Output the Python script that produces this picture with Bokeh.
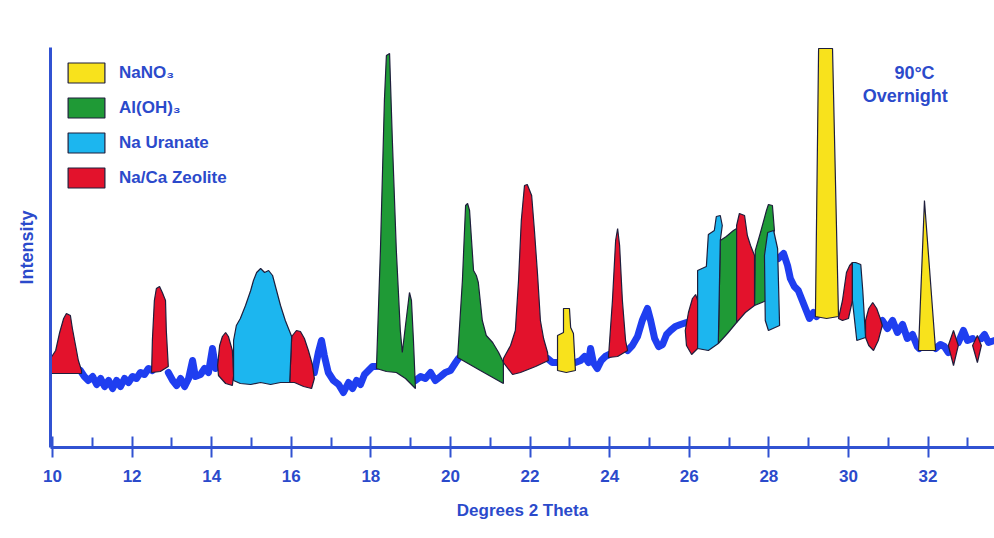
from bokeh.plotting import figure
from bokeh.models import Range1d, FixedTicker, Label, Legend, LegendItem
from bokeh.embed import file_html
from bokeh.resources import INLINE

# ---------------- data (degrees 2-theta, intensity in arbitrary units) ----------------
major_ticks = [10, 12, 14, 16, 18, 20, 22, 24, 26, 28, 30, 32]
minor_ticks = [11, 13, 15, 17, 19, 21, 23, 25, 27, 29, 31, 33]

# blue background trace, as segments between the labelled peaks
base_x = [
    [10.70, 10.80, 10.90, 11.01, 11.11, 11.21, 11.31, 11.41, 11.51, 11.61, 11.71, 11.81, 11.91, 12.01, 12.11, 12.21, 12.31, 12.41, 12.51],
    [12.91, 13.02, 13.12, 13.22, 13.32, 13.42, 13.52, 13.59, 13.72, 13.82, 13.92, 14.02, 14.10, 14.17],
    [16.58, 16.68, 16.76, 16.83, 16.93, 17.06, 17.19, 17.31, 17.44, 17.54, 17.64, 17.74, 17.84, 17.94, 18.04, 18.14],
    [19.12, 19.25, 19.37, 19.50, 19.62, 19.75, 19.87, 20.00, 20.13, 20.20],
    [22.44, 22.56, 22.69],
    [23.14, 23.27, 23.37, 23.47, 23.52, 23.59, 23.69, 23.79, 23.89, 23.99],
    [24.45, 24.57, 24.70, 24.82, 24.95, 25.03, 25.13, 25.23, 25.33, 25.43, 25.53, 25.65, 25.78, 25.93],
    [28.24, 28.37, 28.47, 28.54, 28.64, 28.74, 28.84, 28.94, 29.02, 29.12, 29.20],
    [30.85, 30.98, 31.11, 31.23, 31.36, 31.48, 31.61, 31.73, 31.78],
    [32.19, 32.31, 32.41, 32.51],
    [32.76, 32.89, 32.99, 33.12],
    [33.34, 33.42, 33.52, 33.67],
]
base_y = [
    [77, 71, 67, 71, 63, 69, 61, 67, 59, 67, 61, 69, 65, 71, 69, 75, 73, 79, 77],
    [75, 67, 62, 69, 61, 69, 87, 71, 73, 79, 75, 99, 79, 85],
    [75, 95, 107, 92, 75, 67, 63, 55, 65, 59, 67, 63, 73, 77, 81, 81],
    [67, 71, 69, 75, 67, 71, 75, 77, 85, 89],
    [89, 85, 85],
    [85, 87, 91, 85, 99, 85, 79, 87, 91, 93],
    [97, 102, 111, 127, 139, 127, 109, 101, 103, 113, 117, 121, 123, 125],
    [189, 194, 182, 169, 161, 157, 147, 137, 129, 135, 131],
    [127, 119, 127, 115, 123, 109, 113, 101, 99],
    [99, 103, 101, 95],
    [105, 117, 107, 109],
    [109, 113, 105, 107],
]

# NaNO3 peaks
nano3_x = [
    [22.69, 22.69, 22.84, 22.84, 22.99, 23.02, 23.09, 23.14, 22.91],
    [29.17, 29.25, 29.60, 29.75, 29.45],
    [31.76, 31.91, 32.19],
]
nano3_y = [
    [77, 112, 115, 139, 139, 120, 114, 77, 75],
    [131, 399, 399, 131, 129],
    [97, 247, 97],
]

# Al(OH)3 peaks
aloh3_x = [
    [18.14, 18.24, 18.34, 18.39, 18.47, 18.54, 18.64, 18.74, 18.79, 18.87, 18.97, 19.02, 19.07, 19.12, 18.87, 18.64, 18.39],
    [20.18, 20.30, 20.38, 20.43, 20.48, 20.58, 20.65, 20.70, 20.80, 20.90, 21.06, 21.21, 21.33, 21.33, 20.75],
    [26.73, 26.78, 26.93, 27.11, 27.19, 27.19, 26.96],
    [27.64, 27.66, 27.79, 27.94, 27.99, 28.09, 28.14, 27.94, 27.94],
]
aloh3_y = [
    [79, 197, 347, 392, 394, 307, 197, 117, 95, 122, 155, 147, 107, 59, 69, 75, 76],
    [90, 167, 242, 244, 237, 177, 172, 165, 127, 112, 105, 95, 85, 64, 77],
    [104, 207, 211, 217, 219, 125, 114],
    [142, 197, 215, 237, 243, 242, 217, 197, 147],
]

# Na uranate peaks
uranate_x = [
    [14.55, 14.55, 14.62, 14.72, 14.85, 14.98, 15.05, 15.13, 15.23, 15.33, 15.43, 15.53, 15.63, 15.73, 15.85, 16.01, 15.96, 15.73, 15.48, 15.23, 14.98, 14.72],
    [26.21, 26.21, 26.43, 26.48, 26.63, 26.68, 26.78, 26.83, 26.78, 26.73, 26.48],
    [27.89, 27.97, 28.12, 28.22, 28.27, 27.99, 27.91],
    [30.10, 30.18, 30.31, 30.36, 30.43, 30.21, 30.10],
]
uranate_y = [
    [67, 107, 122, 129, 142, 157, 167, 175, 179, 175, 177, 172, 157, 142, 127, 111, 65, 65, 63, 65, 63, 64],
    [99, 177, 181, 213, 217, 231, 232, 222, 207, 104, 97],
    [192, 215, 217, 199, 122, 117, 127],
    [185, 185, 183, 157, 110, 107, 147],
]

# Na/Ca zeolite peaks
zeolite_x = [
    [9.95, 9.95, 10.08, 10.18, 10.28, 10.35, 10.45, 10.50, 10.58, 10.65, 10.73, 10.73],
    [12.49, 12.51, 12.56, 12.61, 12.69, 12.76, 12.84, 12.86, 12.91, 12.71],
    [14.15, 14.20, 14.27, 14.35, 14.42, 14.52, 14.55, 14.52, 14.35, 14.17],
    [16.01, 16.13, 16.23, 16.33, 16.43, 16.53, 16.58, 16.51, 16.31, 16.08, 15.96],
    [21.33, 21.51, 21.63, 21.71, 21.78, 21.86, 21.93, 22.04, 22.11, 22.19, 22.26, 22.34, 22.44, 22.46, 22.14, 21.76, 21.56, 21.33],
    [23.97, 24.07, 24.15, 24.20, 24.25, 24.32, 24.40, 24.45, 24.20],
    [25.90, 25.98, 26.08, 26.16, 26.21, 26.21, 26.06, 25.93],
    [27.19, 27.19, 27.26, 27.39, 27.46, 27.54, 27.64, 27.64, 27.41],
    [29.75, 29.85, 29.95, 30.03, 30.10, 30.10, 30.00, 29.85],
    [30.43, 30.51, 30.61, 30.71, 30.80, 30.85, 30.75, 30.63, 30.51, 30.43],
    [32.51, 32.64, 32.76, 32.64],
    [33.12, 33.24, 33.34, 33.24],
]
zeolite_y = [
    [74, 89, 97, 115, 129, 134, 132, 119, 102, 87, 77, 74],
    [75, 107, 147, 159, 161, 155, 147, 117, 81, 76],
    [82, 102, 111, 115, 111, 97, 72, 62, 64, 72],
    [111, 117, 116, 109, 97, 83, 69, 59, 61, 65, 65],
    [89, 102, 117, 167, 227, 262, 263, 252, 217, 172, 127, 109, 95, 87, 81, 75, 73, 85],
    [90, 147, 207, 219, 202, 147, 107, 97, 91],
    [117, 135, 149, 153, 147, 99, 93, 102],
    [125, 222, 234, 232, 212, 202, 192, 142, 135],
    [129, 147, 175, 182, 185, 147, 129, 127],
    [127, 139, 145, 139, 129, 122, 107, 97, 102, 110],
    [102, 117, 102, 82],
    [102, 112, 102, 85],
]

legend_labels = ["NaNO\u2083", "Al(OH)\u2083", "Na Uranate", "Na/Ca Zeolite"]
note_lines = ["90\u00b0C", "Overnight"]
x_title = "Degrees 2 Theta"
y_title = "Intensity"

# ---------------- styles ----------------
BLUE = "#1f3ef0"
AXIS = "#3152d2"
TEXT = "#2b4acb"
YELLOW = "#f8e21c"
GREEN = "#1f9a36"
CYAN = "#1cb6ef"
RED = "#e3122c"
EDGE = "#1e1e3c"
FONT = "Liberation Sans"

p = figure(width=994, height=538,
           x_range=Range1d(9.95, 33.67), y_range=Range1d(0, 400),
           output_backend="svg", toolbar_location=None,
           min_border_left=50, min_border_right=0,
           min_border_top=47, min_border_bottom=91)
p.xgrid.visible = False
p.ygrid.visible = False
p.outline_line_color = None
p.background_fill_color = "white"
p.border_fill_color = "white"

p.multi_line(xs=base_x, ys=base_y, line_color=BLUE, line_width=7,
             line_join="round", line_cap="round")

r_green = p.patches(xs=aloh3_x, ys=aloh3_y, fill_color=GREEN, line_color=EDGE, line_width=1.2)
r_red = p.patches(xs=zeolite_x, ys=zeolite_y, fill_color=RED, line_color=EDGE, line_width=1.2)
r_cyan = p.patches(xs=uranate_x, ys=uranate_y, fill_color=CYAN, line_color=EDGE, line_width=1.2)
r_yellow = p.patches(xs=nano3_x, ys=nano3_y, fill_color=YELLOW, line_color=EDGE, line_width=1.2)

legend = Legend(items=[
    LegendItem(label=legend_labels[0], renderers=[r_yellow]),
    LegendItem(label=legend_labels[1], renderers=[r_green]),
    LegendItem(label=legend_labels[2], renderers=[r_cyan]),
    LegendItem(label=legend_labels[3], renderers=[r_red]),
], location="top_left")
legend.margin = 0
legend.padding = 13
legend.spacing = 10
legend.glyph_width = 46
legend.glyph_height = 25
legend.label_height = 25
legend.label_standoff = 10
legend.label_text_font = FONT
legend.label_text_font_style = "bold"
legend.label_text_font_size = "17px"
legend.label_text_color = TEXT
legend.background_fill_alpha = 0
legend.border_line_alpha = 0
p.add_layout(legend)

# x axis
xa = p.xaxis[0]
xa.ticker = FixedTicker(ticks=major_ticks, minor_ticks=minor_ticks)
xa.axis_line_color = AXIS
xa.axis_line_width = 3
xa.major_tick_line_color = AXIS
xa.major_tick_line_width = 2
xa.major_tick_in = 11
xa.major_tick_out = 10
xa.minor_tick_line_color = AXIS
xa.minor_tick_line_width = 2
xa.minor_tick_in = 10
xa.minor_tick_out = 0
xa.major_label_text_font = FONT
xa.major_label_text_font_style = "bold"
xa.major_label_text_font_size = "17px"
xa.major_label_text_color = TEXT
xa.major_label_standoff = 12
xa.axis_label = x_title
xa.axis_label_text_font = FONT
xa.axis_label_text_font_style = "bold"
xa.axis_label_text_font_size = "17px"
xa.axis_label_text_color = TEXT
xa.axis_label_standoff = 16

# y axis
ya = p.yaxis[0]
ya.ticker = FixedTicker(ticks=[])
ya.axis_line_color = AXIS
ya.axis_line_width = 3
ya.major_tick_line_color = None
ya.minor_tick_line_color = None
ya.major_label_text_color = None
ya.axis_label = y_title
ya.axis_label_text_font = FONT
ya.axis_label_text_font_style = "bold"
ya.axis_label_text_font_size = "18px"
ya.axis_label_text_color = TEXT
ya.axis_label_standoff = 14

# annotation
p.add_layout(Label(x=31.66, y=365, text=note_lines[0], text_align="center",
                   text_font=FONT, text_font_style="bold", text_font_size="18px",
                   text_color=TEXT))
p.add_layout(Label(x=31.43, y=342, text=note_lines[1], text_align="center",
                   text_font=FONT, text_font_style="bold", text_font_size="18px",
                   text_color=TEXT))

open("out.html", "w").write(file_html(p, INLINE))
